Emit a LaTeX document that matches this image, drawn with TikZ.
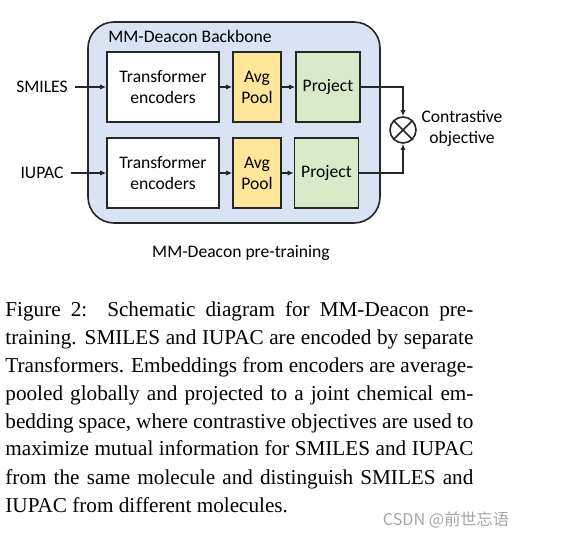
\documentclass[tikz,border=0pt]{standalone}
\usepackage{fontspec}
\setmainfont{Liberation Serif}
\newfontfamily\diagfont{Carlito}
\newfontfamily\cjkfont{Noto Sans CJK SC}
\usetikzlibrary{arrows.meta}
\definecolor{backfill}{HTML}{DAE3F3}
\definecolor{poolfill}{HTML}{FFE699}
\definecolor{projfill}{HTML}{D9EAC9}
\definecolor{edgegray}{HTML}{262626}
\tikzset{
  blockbox/.style={draw=edgegray, line width=0.8pt, align=center, inner sep=0pt},
  encbox/.style={blockbox, fill=white, minimum width=56pt, minimum height=35pt},
  poolbox/.style={blockbox, fill=poolfill, minimum width=24pt, minimum height=35pt},
  projbox/.style={blockbox, fill=projfill, minimum width=32pt, minimum height=35pt},
  arr/.style={-{Latex[length=3pt,width=2.6pt]}, line width=0.6pt, draw=edgegray},
}
\begin{document}
\begin{tikzpicture}[x=0.5pt, y=-0.5pt, font=\diagfont\fontsize{8.8}{10.5}\selectfont]
  \useasboundingbox (0,0) rectangle (568,540);
  % backbone container
  \node[draw=edgegray, line width=0.8pt, fill=backfill, rounded corners=13pt,
        minimum width=146pt, minimum height=100.5pt, inner sep=0pt] (backbone) at (234,122.5) {};
  \node[anchor=west, inner sep=0pt] (backtitle) at (108,36) {MM-Deacon Backbone};
  % inputs
  \node (smiles) at (42,87) {SMILES};
  \node (iupac) at (42,173) {IUPAC};
  % upper branch
  \node[encbox] (encA) at (163,87) {Transformer\\encoders};
  \node[poolbox] (poolA) at (257,87) {Avg\\Pool};
  \node[projbox] (projA) at (328,87) {Project};
  % lower branch
  \node[encbox] (encB) at (163,173) {Transformer\\encoders};
  \node[poolbox] (poolB) at (257,173) {Avg\\Pool};
  \node[projbox] (projB) at (326.5,173) {Project};
  % contrastive objective
  \node[circle, draw=edgegray, line width=0.8pt, minimum size=13pt, inner sep=0pt] (cross) at (403,130) {};
  \draw[edgegray, line width=0.8pt] (cross.north east) -- (cross.south west)
                                     (cross.north west) -- (cross.south east);
  \node[align=center] (contrast) at (462,128) {Contrastive\\objective};
  \draw[arr] (smiles) -- (encA);
  \draw[arr] (iupac) -- (encB);
  \draw[arr] (encA) -- (poolA);
  \draw[arr] (poolA) -- (projA);
  \draw[arr] (encB) -- (poolB);
  \draw[arr] (poolB) -- (projB);
  \draw[arr] (projA.east) -| (cross.north);
  \draw[arr] (projB.east) -| (cross.south);
  \node (pretrain) at (241,253) {MM-Deacon pre-training};
  % caption
  \node[anchor=base west, inner sep=0pt, text width=234pt, align=justify,
        font=\rmfamily\fontsize{10.6}{14}\selectfont] (caption) at (5,316)
    {Figure 2:\ \ Schematic diagram for MM-Deacon pre-\linebreak
     training. SMILES and IUPAC are encoded by separate\linebreak
     Transformers. Embeddings from encoders are average-\linebreak
     pooled globally and projected to a joint chemical em-\linebreak
     bedding space, where contrastive objectives are used to\linebreak
     maximize mutual information for SMILES and IUPAC\linebreak
     from the same molecule and distinguish SMILES and\linebreak
     IUPAC from different molecules.};
  \node[text=black!35, font=\cjkfont\fontsize{8.1}{9}\selectfont] (mark) at (446,520) {CSDN @前世忘语};
\end{tikzpicture}
\end{document}
